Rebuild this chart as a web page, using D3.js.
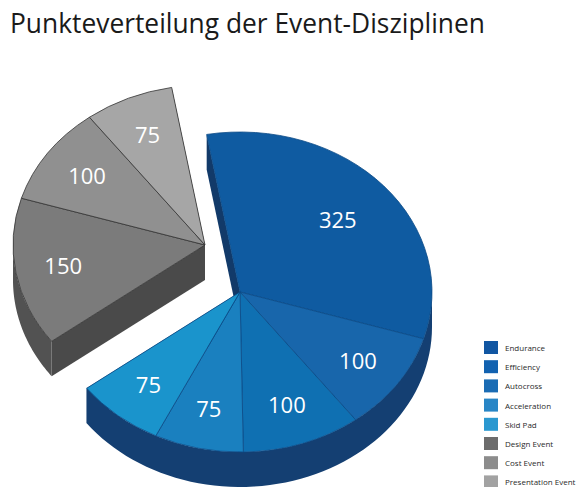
<!doctype html>
<html lang="de">
<head>
<meta charset="UTF-8">
<title>Punkteverteilung</title>
<script src="https://d3js.org/d3.v7.min.js"></script>
<style>
  body { margin: 0; background: #fff; }
  svg { display: block; }
</style>
</head>
<body>
<div id="chart"></div>
<script>
// data
const categories = ["Endurance", "Efficiency", "Autocross", "Acceleration", "Skid Pad",
                    "Design Event", "Cost Event", "Presentation Event"];
const points = [325, 100, 100, 75, 75, 150, 100, 75];
const topColors = ["#0f5ba1", "#1866ab", "#0f70b2", "#1a80bf", "#1a94cc",
                   "#7b7b7b", "#909090", "#a6a6a6"];
const legendColors = ["#1156a2", "#1262b0", "#1a6cb4", "#2886c6", "#2a98d0",
                      "#6c6c6c", "#8c8c8c", "#a2a2a2"];
// which group each slice belongs to (blue = dynamic, gray = static)
const group = ["dyn", "dyn", "dyn", "dyn", "dyn", "stat", "stat", "stat"];

const width = 576, height = 487;
const svg = d3.select("#chart").append("svg")
  .attr("width", width).attr("height", height);

svg.append("text")
  .attr("x", 10).attr("y", 33)
  .attr("font-family", "Open Sans, sans-serif")
  .attr("font-size", 27)
  .attr("fill", "#1a1a1a")
  .attr("textLength", 475)
  .attr("lengthAdjust", "spacingAndGlyphs")
  .text("Punkteverteilung der Event-Disziplinen");

// pie layout, clockwise from 12 o'clock
const startDeg = -10;
const pie = d3.pie().sort(null).value(d => d.v)
  .startAngle(startDeg * Math.PI / 180)
  .endAngle((startDeg + 360) * Math.PI / 180);
const arcs = pie(points.map((v, i) => ({ v: v, i: i })));

const rx = 192, ry = 160, depth = 35;
const centers = {
  dyn: [240, 292],
  stat: [205, 245]
};
const sideColor = { dyn: "#143f72", stat: "#525252" };
const cutColor = { dyn: "#123a69", stat: "#4a4a4a" };
const lineColor = { dyn: "#0b4a86", stat: "#333" };

function pt(c, a, dy) {
  return [c[0] + rx * Math.sin(a), c[1] - ry * Math.cos(a) + (dy || 0)];
}

const line = d3.line();

["stat", "dyn"].forEach(g => {
  const c = centers[g];
  const ga = arcs.filter(a => group[a.data.i] === g);
  const a0 = d3.min(ga, a => a.startAngle);
  const a1 = d3.max(ga, a => a.endAngle);
  const layer = svg.append("g");

  // cut faces of the wedge group
  [a0, a1].forEach(a => {
    const p = pt(c, a);
    layer.append("path")
      .attr("d", line([c, p, [p[0], p[1] + depth], [c[0], c[1] + depth]]) + "Z")
      .attr("fill", cutColor[g]);
  });

  // outer rim, only the part facing down is visible
  const segs = [];
  for (let k = -1; k <= 1; k++) {
    const s = Math.max(a0, Math.PI / 2 + k * 2 * Math.PI);
    const e = Math.min(a1, 3 * Math.PI / 2 + k * 2 * Math.PI);
    if (e > s) segs.push([s, e]);
  }
  segs.forEach(([s, e]) => {
    const n = 60;
    const topPts = d3.range(n + 1).map(j => pt(c, s + (e - s) * j / n));
    const botPts = topPts.slice().reverse().map(p => [p[0], p[1] + depth]);
    layer.append("path")
      .attr("d", line(topPts.concat(botPts)) + "Z")
      .attr("fill", sideColor[g]);
  });

  // top faces
  const arc = d3.arc().innerRadius(0).outerRadius(rx);
  layer.selectAll("path.top").data(ga).enter().append("path")
    .attr("class", "top")
    .attr("transform", `translate(${c[0]},${c[1]}) scale(1,${ry / rx})`)
    .attr("d", arc)
    .attr("fill", d => topColors[d.data.i])
    .attr("stroke", lineColor[g])
    .attr("stroke-width", 0.8)
    .attr("vector-effect", "non-scaling-stroke");

  // value labels
  const lr = d => d.data.v > 300 ? 0.68 : 0.75;
  layer.selectAll("text.val").data(ga).enter().append("text")
    .attr("class", "val")
    .attr("x", d => c[0] + lr(d) * rx * Math.sin((d.startAngle + d.endAngle) / 2))
    .attr("y", d => c[1] - lr(d) * ry * Math.cos((d.startAngle + d.endAngle) / 2) + 8)
    .attr("text-anchor", "middle")
    .attr("font-family", "Open Sans, sans-serif")
    .attr("font-size", 22)
    .attr("fill", "#fff")
    .text(d => d.data.v);
});

// legend
const legend = svg.append("g").attr("transform", "translate(484,341)");
const item = legend.selectAll("g").data(categories).enter().append("g")
  .attr("transform", (d, i) => `translate(0,${i * 19.2})`);
item.append("rect")
  .attr("width", 14).attr("height", 13)
  .attr("fill", (d, i) => legendColors[i]);
item.append("text")
  .attr("x", 21).attr("y", 10)
  .attr("font-family", "Open Sans, sans-serif")
  .attr("font-size", 8)
  .attr("fill", "#2a2a2a")
  .text(d => d);
</script>
</body>
</html>
